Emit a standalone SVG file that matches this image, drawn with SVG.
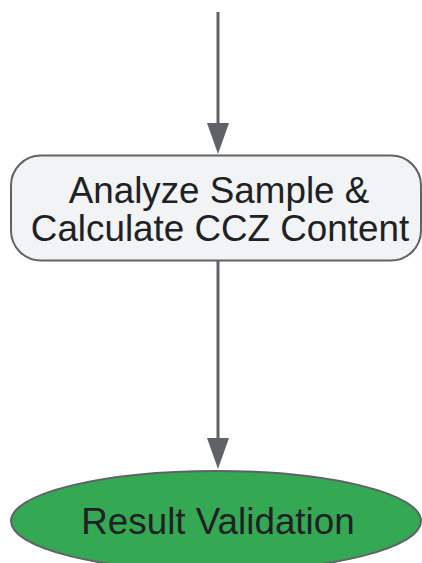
<svg xmlns="http://www.w3.org/2000/svg" width="422" height="563" viewBox="0 0 422 563">
<style>
.edge{stroke:#5f6368;stroke-width:3;fill:none}
.head{fill:#5f6368}
.lbl{font-family:"Liberation Sans",Arial,sans-serif;font-size:36.8px;fill:#202124;text-anchor:middle}
</style>
<rect width="422" height="563" fill="#ffffff"/>
<g id="connectors">
<path class="edge" d="M218,12 L218,123"/>
<path class="head" d="M207,123 L229,123 L218,154 Z"/>
<path class="edge" d="M218,261 L218,438"/>
<path class="head" d="M207,438 L229,438 L218,469 Z"/>
</g>
<g id="analyze">
<rect x="11" y="155.5" width="410" height="105" rx="30" ry="30" fill="#f1f3f4" stroke="#5f6368" stroke-width="2"/>
<text class="lbl" x="219" y="203">Analyze Sample &amp;</text>
<text class="lbl" x="220" y="241">Calculate CCZ Content</text>
</g>
<g id="result">
<ellipse cx="216" cy="521" rx="205" ry="50" fill="#34a853" stroke="#5f6368" stroke-width="2"/>
<text class="lbl" x="218" y="534">Result Validation</text>
</g>
</svg>
